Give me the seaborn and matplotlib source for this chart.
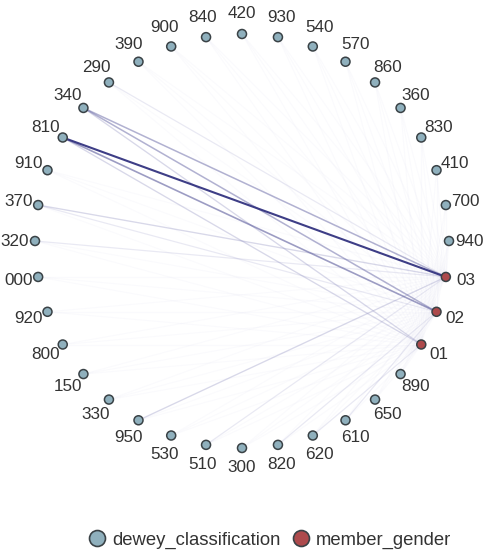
import numpy as np
import pandas as pd
import matplotlib
matplotlib.use("Agg")
import matplotlib.pyplot as plt
from matplotlib.collections import LineCollection
from matplotlib.lines import Line2D
import seaborn as sns

# ---- data ----
# nodes clockwise from top
node_names = ["420", "930", "540", "570", "860", "360", "830", "410", "700", "940",
              "03", "02", "01", "890", "650", "610", "620", "820", "300", "510",
              "530", "950", "330", "150", "800", "920", "000", "320", "370", "910",
              "810", "340", "290", "390", "900", "840"]
gender_nodes = ["01", "02", "03"]
dewey_nodes = [n for n in node_names if n not in gender_nodes]
# edge weights from each dewey node to gender 01, 02, 03
w01 = [1, 1, 1, 1, 1, 1, 1, 1, 1, 1, 1, 1, 1, 2, 1, 1, 1, 1, 1, 1, 1, 1, 1, 1, 1, 1, 1, 3, 3, 1, 1, 1, 1]
w02 = [1, 1, 1, 1, 1, 1, 1, 1, 1, 1, 1, 1, 2, 1, 2, 1, 1, 1, 1, 1, 1, 1, 1, 1, 1, 2, 1, 6, 5, 1, 1, 1, 1]
w03 = [1, 1, 1, 1, 1, 1, 1, 1, 1, 1, 1, 1, 1, 1, 1, 1, 2, 1, 3, 1, 1, 1, 1, 1, 2, 3, 1, 10, 5, 2, 1, 1, 1]
legend_labels = ["dewey_classification", "member_gender"]

# ---- layout ----
W, H = 483, 551
cx, cy, R = 242, 241, 207
n = len(node_names)
ang = np.deg2rad(90 - np.arange(n) * 360.0 / n)
pos = {name: (cx + R * np.cos(a), cy - R * np.sin(a)) for name, a in zip(node_names, ang)}

df = pd.DataFrame({
    "name": node_names,
    "x": [pos[k][0] for k in node_names],
    "y": [pos[k][1] for k in node_names],
    "group": ["member_gender" if k in gender_nodes else "dewey_classification" for k in node_names],
})

fig = plt.figure(figsize=(W / 100, H / 100), dpi=100)
ax = fig.add_axes([0, 0, 1, 1])

# edges
segs, cols, lws = [], [], []
maxw = 10.0
light = np.array([0.78, 0.78, 0.90])
dark = np.array([0.20, 0.20, 0.50])
edges = []
for i, d in enumerate(dewey_nodes):
    for g, wl in zip(gender_nodes, (w01, w02, w03)):
        edges.append((d, g, wl[i]))
edges.sort(key=lambda e: e[2])
for d, g, w in edges:
    t = (w - 1) / (maxw - 1)
    c = light + (dark - light) * t ** 0.7
    alpha = 0.08 + 0.87 * t ** 0.75
    segs.append([pos[d], pos[g]])
    cols.append((*c, alpha))
    lws.append(0.8 + 0.7 * t)
ax.add_collection(LineCollection(segs, colors=cols, linewidths=lws, zorder=1))

palette = {"dewey_classification": "#8fb0bd", "member_gender": "#ad4a4c"}
sns.scatterplot(data=df, x="x", y="y", hue="group", palette=palette, s=42,
                edgecolor="#3a4246", linewidth=1.1, ax=ax, legend=False, zorder=3)
ax.set_xlim(0, W)
ax.set_ylim(H, 0)
ax.axis("off")

# labels
RL = 227
for name, a in zip(node_names, ang):
    lx, ly = cx + RL * np.cos(a), cy - RL * np.sin(a)
    ax.text(lx, ly, name, ha="center", va="center", fontsize=12.3,
            family="Liberation Sans", color="#333333", zorder=4)

handles = [Line2D([0], [0], marker="o", linestyle="", markersize=11.5,
                  markerfacecolor=palette[l], markeredgecolor="#3a4246",
                  markeredgewidth=1.2) for l in legend_labels]
fig.legend(handles, legend_labels, loc="lower center", bbox_to_anchor=(0.548, -0.026),
           ncol=2, frameon=False, handletextpad=-0.2, columnspacing=0.1,
           prop={"family": "Liberation Sans", "size": 13.3}, labelcolor="#333333")

fig.savefig("out.png", dpi=100, facecolor="white")
